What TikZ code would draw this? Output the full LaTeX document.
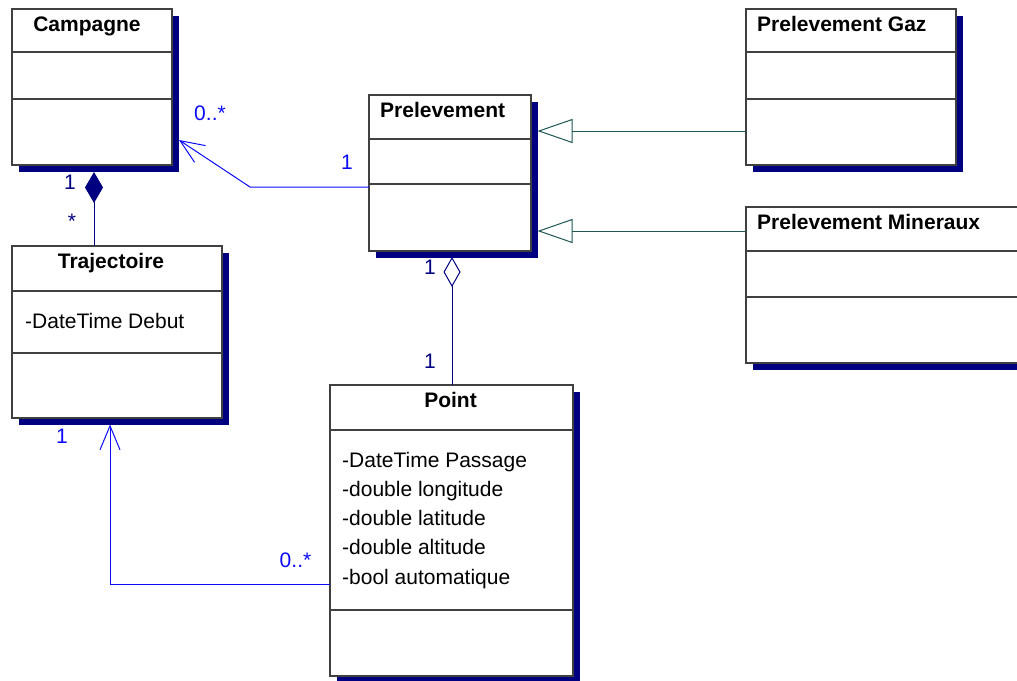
\documentclass[tikz,border=0pt]{standalone}
\usepackage{fontspec}
\setmainfont{Liberation Sans}
\usetikzlibrary{arrows.meta,calc,positioning,shadows}
\definecolor{umlnavy}{RGB}{0,0,128}
\definecolor{umlblue}{RGB}{10,10,250}
\definecolor{umlteal}{RGB}{30,85,85}
\definecolor{umlgray}{RGB}{64,64,64}

\begin{document}
\begin{tikzpicture}[x=1pt,y=-1pt]
	\tikzset{cls/.style={draw=umlgray, line width=1.2pt, fill=white, anchor=north west, inner sep=0pt, outer sep=0pt,
			drop shadow={shadow xshift=6.5pt, shadow yshift=-6.5pt, opacity=1, fill=umlnavy}},
		sep/.style={draw=umlgray, line width=1.2pt},
		title/.style={anchor=base, inner sep=0pt, font=\fontsize{21}{25}\selectfont\bfseries},
		attr/.style={anchor=base west, inner sep=0pt, font=\fontsize{21}{25}\selectfont},
		mult/.style={anchor=base, inner sep=0pt, font=\fontsize{21}{25}\selectfont},
		assoc/.style={draw=umlblue, line width=1pt, -{Straight Barb[length=24pt,width=20pt]}},
		compo/.style={draw=umlnavy, line width=1pt, {Diamond[length=31pt,width=18pt]}-},
		aggr/.style={draw=umlnavy, line width=1pt, {Diamond[open,length=30pt,width=17pt]}-},
		inherit/.style={draw=umlteal, line width=1pt, -{Triangle[open,length=35pt,width=24pt]}}
	}
	\clip (0,0) rectangle (1017,680);
	% classes
	\node [cls, minimum width=160pt, minimum height=156pt] (camp) at (12,9) {};
	\node [cls, minimum width=210pt, minimum height=172pt] (traj) at (12,246) {};
	\node [cls, minimum width=162pt, minimum height=156pt] (prel) at (369,95) {};
	\node [cls, minimum width=243pt, minimum height=291pt] (point) at (330,385) {};
	\node [cls, minimum width=210pt, minimum height=156pt] (gaz) at (746,9) {};
	\node [cls, minimum width=290pt, minimum height=156pt] (mine) at (746,207) {};
	% compartments
	\draw [sep] ($(camp.north west)+(0,43)$) -- ($(camp.north east)+(0,43)$);
	\draw [sep] ($(camp.north west)+(0,90)$) -- ($(camp.north east)+(0,90)$);
	\draw [sep] ($(traj.north west)+(0,45)$) -- ($(traj.north east)+(0,45)$);
	\draw [sep] ($(traj.north west)+(0,107)$) -- ($(traj.north east)+(0,107)$);
	\draw [sep] ($(prel.north west)+(0,44)$) -- ($(prel.north east)+(0,44)$);
	\draw [sep] ($(prel.north west)+(0,89)$) -- ($(prel.north east)+(0,89)$);
	\draw [sep] ($(point.north west)+(0,45)$) -- ($(point.north east)+(0,45)$);
	\draw [sep] ($(point.north west)+(0,225)$) -- ($(point.north east)+(0,225)$);
	\draw [sep] ($(gaz.north west)+(0,43)$) -- ($(gaz.north east)+(0,43)$);
	\draw [sep] ($(gaz.north west)+(0,90)$) -- ($(gaz.north east)+(0,90)$);
	\draw [sep] ($(mine.north west)+(0,44)$) -- ($(mine.north east)+(0,44)$);
	\draw [sep] ($(mine.north west)+(0,90)$) -- ($(mine.north east)+(0,90)$);
	% names
	\node [title] (campT) at ($(camp.north)+(-5,22)$) {Campagne};
	\node [title] (trajT) at ($(traj.north)+(-6,22)$) {Trajectoire};
	\node [title] (pointT) at ($(point.north)+(-1,22)$) {Point};
	\node [title, anchor=base west] (prelT) at ($(prel.north west)+(11,22)$) {Prelevement};
	\node [title, anchor=base west] (gazT) at ($(gaz.north west)+(11,22)$) {Prelevement Gaz};
	\node [title, anchor=base west] (mineT) at ($(mine.north west)+(11,22)$) {Prelevement Mineraux};
	% attributes
	\node [attr] (trajA) at ($(traj.north west)+(13,82)$) {-DateTime Debut};
	\node [attr] (pa) at ($(point.north west)+(12,82)$) {-DateTime Passage};
	\node [attr, below=29.3pt of pa.base west, anchor=base west] (pb) {-double longitude};
	\node [attr, below=29.3pt of pb.base west, anchor=base west] (pc) {-double latitude};
	\node [attr, below=29.3pt of pc.base west, anchor=base west] (pd) {-double altitude};
	\node [attr, below=29.3pt of pd.base west, anchor=base west] (pe) {-bool automatique};
	% Prelevement -> Campagne
	\coordinate (bend1) at (250,187);
	\draw [assoc] ($(prel.west)+(0,14)$) -- (bend1) -- ($(camp.north east)+(7,131)$);
	\node [mult, text=umlblue] (m1) at (210,120) {0..*};
	\node [mult, text=umlblue] (m2) at (347,169) {1};
	% Campagne <>- Trajectoire
	\coordinate (cd) at ($(camp.south)+(2,7)$);
	\draw [compo] (cd) -- (cd |- traj.north);
	\node [mult, text=umlnavy] (m3) at (70,189) {1};
	\node [mult, text=umlnavy] (m4) at (72,228) {*};
	% Prelevement <>- Point
	\coordinate (ad) at ($(prel.south)+(2,6)$);
	\draw [aggr] (ad) -- (ad |- point.north);
	\node [mult, text=umlnavy] (m5) at (430,274) {1};
	\node [mult, text=umlnavy] (m6) at (430,368) {1};
	% generalisations
	\coordinate (prelS) at ($(prel.east)+(6.5,0)$);
	\coordinate (g1) at ($(gaz.north west)+(0,122)$);
	\coordinate (g2) at ($(mine.north west)+(0,24)$);
	\draw [inherit] (g1) -- (g1 -| prelS);
	\draw [inherit] (g2) -- (g2 -| prelS);
	% Point -> Trajectoire
	\coordinate (p1) at ($(point.north west)+(0,199)$);
	\coordinate (t1) at ($(traj.south)+(-7,6.5)$);
	\draw [assoc] (p1) -| (t1);
	\node [mult, text=umlblue] (m7) at (62,443) {1};
	\node [mult, text=umlblue] (m8) at (295.5,567) {0..*};
\end{tikzpicture}
\end{document}
